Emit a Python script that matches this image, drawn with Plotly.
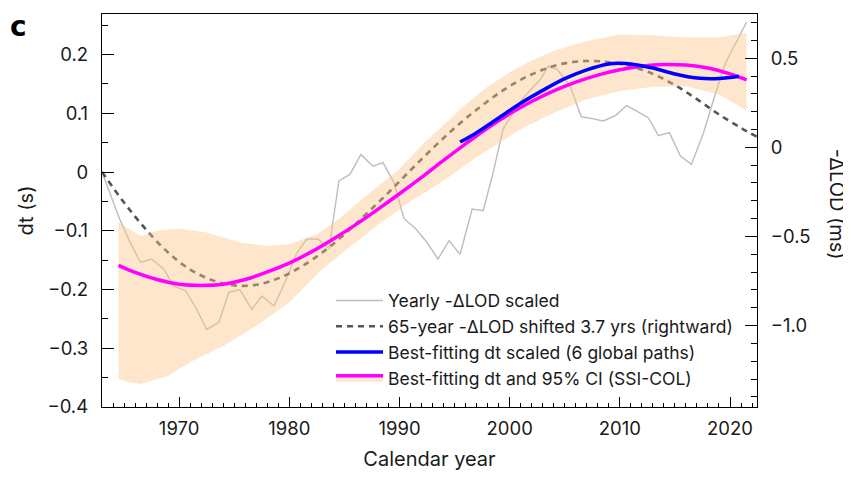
import plotly.graph_objects as go

# ---- data ----
gray_years = [1963.0, 1964.6, 1965.6, 1966.5, 1967.5, 1968.6, 1969.5, 1970.6, 1971.6, 1972.5,
              1973.6, 1974.5, 1975.5, 1976.6, 1977.5, 1978.6, 1979.6, 1980.7, 1981.6, 1982.6,
              1983.6, 1984.5, 1985.5, 1986.5, 1987.6, 1988.5, 1989.5, 1990.4, 1991.5, 1992.5,
              1993.5, 1994.5, 1995.5, 1996.6, 1997.6, 1998.5, 1999.4, 2000.3, 2001.0, 2002.2,
              2002.8, 2003.5, 2004.3, 2005.5, 2006.5, 2007.5, 2008.5, 2009.6, 2010.6, 2011.5,
              2012.6, 2013.5, 2014.5, 2015.5, 2016.5, 2017.6, 2018.6, 2019.6, 2020.6, 2021.5]
gray_dt = [0.0, -0.080, -0.122, -0.154, -0.148, -0.165, -0.194, -0.202, -0.234, -0.268,
           -0.256, -0.205, -0.200, -0.234, -0.211, -0.228, -0.188, -0.137, -0.114, -0.114,
           -0.131, -0.015, -0.004, 0.030, 0.010, 0.016, -0.018, -0.079, -0.097, -0.120,
           -0.148, -0.117, -0.140, -0.063, -0.066, -0.001, 0.073, 0.100, 0.121, 0.146,
           0.158, 0.180, 0.175, 0.146, 0.094, 0.091, 0.087, 0.096, 0.113, 0.104,
           0.092, 0.062, 0.067, 0.027, 0.013, 0.067, 0.129, 0.186, 0.223, 0.255]

dash_years = [1963, 1965, 1967, 1969, 1971, 1973, 1975, 1977, 1979, 1981, 1983, 1985, 1987,
              1989, 1991, 1993, 1995, 1997, 1999, 2001, 2003, 2005, 2007, 2009, 2011, 2013,
              2015, 2017, 2019, 2021, 2022.45]
dash_dt = [0.0, -0.052, -0.098, -0.137, -0.166, -0.184, -0.193, -0.192, -0.181, -0.162,
           -0.137, -0.106, -0.071, -0.035, 0.003, 0.040, 0.075, 0.106, 0.134, 0.157, 0.174,
           0.185, 0.189, 0.187, 0.180, 0.167, 0.148, 0.124, 0.098, 0.075, 0.060]

blue_years = [1995.5, 1997, 1999, 2001, 2003, 2005, 2007, 2009, 2010, 2011, 2013, 2015,
              2017, 2019, 2020.8]
blue_dt = [0.051, 0.067, 0.092, 0.117, 0.139, 0.159, 0.174, 0.184, 0.185, 0.184, 0.177,
           0.167, 0.160, 0.159, 0.163]

mag_years = [1964.5, 1966, 1968, 1970, 1972, 1974, 1976, 1978, 1980, 1982, 1984, 1986, 1988,
             1990, 1992, 1994, 1996, 1998, 2000, 2002, 2004, 2006, 2008, 2010, 2012, 2014,
             2016, 2018, 2020, 2021.5]
mag_dt = [-0.159, -0.171, -0.183, -0.191, -0.193, -0.191, -0.183, -0.170, -0.155, -0.136,
          -0.114, -0.090, -0.064, -0.037, -0.009, 0.020, 0.048, 0.075, 0.099, 0.120, 0.138,
          0.153, 0.165, 0.174, 0.180, 0.183, 0.182, 0.177, 0.167, 0.157]

ci_up_years = [1964.5, 1966.5, 1968, 1970, 1972.5, 1975.5, 1978, 1980, 1982.5, 1984.5, 1987,
               1990, 1992, 1994, 1996, 1998, 2000, 2002, 2004, 2007, 2010, 2013, 2016, 2019,
               2021.5]
ci_up = [-0.086, -0.109, -0.100, -0.096, -0.103, -0.120, -0.126, -0.123, -0.106, -0.080,
         -0.040, 0.005, 0.045, 0.080, 0.115, 0.145, 0.170, 0.190, 0.206, 0.223, 0.234, 0.233,
         0.229, 0.229, 0.237]

ci_lo_years = [1964.5, 1965.5, 1966.5, 1967.5, 1969, 1971, 1974, 1977, 1980, 1983, 1985, 1988,
               1991, 1994, 1997, 2001, 2004, 2007, 2010, 2013, 2016, 2019, 2021.5]
ci_lo = [-0.352, -0.358, -0.361, -0.355, -0.347, -0.324, -0.296, -0.262, -0.222, -0.165,
         -0.135, -0.090, -0.050, -0.015, 0.025, 0.073, 0.101, 0.124, 0.138, 0.145, 0.146,
         0.132, 0.105]

x_ticks = [1970, 1980, 1990, 2000, 2010, 2020]
right_tickvals = [0.5, 0.0, -0.5, -1.0]
right_ticktext = ["0.5", "0", "\u22120.5", "\u22121.0"]

legend_names = ["Yearly -\u0394LOD scaled",
                "65-year -\u0394LOD shifted 3.7 yrs (rightward)",
                "Best-fitting dt scaled (6 global paths)",
                "Best-fitting dt and 95% CI (SSI-COL)"]

# ---- styles ----
BAND = "rgba(250,195,134,0.42)"
MAGENTA = "#ff00ff"
BLUE = "#0000ff"
FONT = "Inter"

fig = go.Figure()

fig.add_trace(go.Scatter(x=gray_years, y=gray_dt, mode="lines",
                         line=dict(color="#bdbdbd", width=1.4),
                         name=legend_names[0], legendrank=1))
fig.add_trace(go.Scatter(x=dash_years, y=dash_dt, mode="lines",
                         line=dict(color="#555555", width=2.6, dash="6px,5px"),
                         line_shape="spline",
                         name=legend_names[1], legendrank=2))
fig.add_trace(go.Scatter(x=ci_lo_years, y=ci_lo, mode="lines", line=dict(width=0),
                         showlegend=False, hoverinfo="skip"))
fig.add_trace(go.Scatter(x=ci_up_years, y=ci_up, mode="lines", line=dict(width=0),
                         fill="tonexty", fillcolor=BAND, showlegend=False, hoverinfo="skip"))
fig.add_trace(go.Scatter(x=mag_years, y=mag_dt, mode="lines", line_shape="spline",
                         line=dict(color=MAGENTA, width=3.5), showlegend=False))
fig.add_trace(go.Scatter(x=blue_years, y=blue_dt, mode="lines", line_shape="spline",
                         line=dict(color=BLUE, width=3.5),
                         name=legend_names[2], legendrank=3))
# legend-only entry combining CI band and magenta line
fig.add_trace(go.Scatter(x=[None], y=[None], mode="lines", fill="toself",
                         fillcolor=BAND, line=dict(color=MAGENTA, width=3.5),
                         name=legend_names[3], legendrank=4))
# secondary axis carrier (no visible marks)
fig.add_trace(go.Scatter(x=[None], y=[None], yaxis="y2", showlegend=False, hoverinfo="skip"))

# page body adds an 8px margin, so the figure is 843x472 and offsets are compensated
PW, PH = 843, 472
ML, MR, MT, MB = 94, 94, 6, 72.5
plot_w = PW - ML - MR
plot_h = PH - MT - MB

fig.update_layout(
    width=PW, height=PH,
    margin=dict(l=ML, r=MR, t=MT, b=MB),
    paper_bgcolor="white", plot_bgcolor="white",
    font=dict(family=FONT, size=18.5, color="#1a1a1a"),
    showlegend=True,
    legend=dict(x=(331 - 102) / plot_w, y=1 - (283 - 14) / plot_h,
                xanchor="left", yanchor="top", traceorder="normal",
                bgcolor="rgba(0,0,0,0)", font=dict(size=17.5, family=FONT),
                itemwidth=47, tracegroupgap=0),
    xaxis=dict(range=[1963, 2022.45], tickvals=x_ticks, showgrid=False, zeroline=False,
               showline=True, linecolor="black", linewidth=1.3, mirror=True,
               ticks="inside", ticklen=10, tickwidth=1.2, tickcolor="black",
               minor=dict(dtick=1, ticks="inside", ticklen=4, tickcolor="black", tickwidth=1),
               ticklabelstandoff=5,
               title=dict(text="Calendar year", font=dict(size=20), standoff=13)),
    yaxis=dict(range=[-0.4, 0.269], dtick=0.1, tick0=0, showgrid=False, zeroline=False,
               showline=True, linecolor="black", linewidth=1.3,
               ticks="inside", ticklen=12, tickwidth=1.2, tickcolor="black",
               minor=dict(dtick=0.05, ticks="inside", ticklen=6, tickcolor="black", tickwidth=1),
               ticklabelstandoff=9,
               title=dict(text="dt (s)", font=dict(size=20), standoff=8)),
    yaxis2=dict(range=[-1.457, 0.748], overlaying="y", side="right", anchor="x",
                tickvals=right_tickvals, ticktext=right_ticktext,
                showgrid=False, zeroline=False,
                showline=True, linecolor="black", linewidth=1.3,
                ticks="inside", ticklen=12, tickwidth=1.2, tickcolor="black",
                minor=dict(dtick=0.1, ticks="inside", ticklen=6, tickcolor="black", tickwidth=1),
                ticklabelstandoff=9),
    annotations=[
        dict(text="-\u0394LOD (ms)", textangle=90, xref="paper", yref="paper",
             x=(829 - ML) / plot_w, y=1 - (196 - MT) / plot_h, showarrow=False,
             font=dict(size=20), xanchor="center", yanchor="middle"),
        dict(text="<b>c</b>", xref="paper", yref="paper", x=-ML / plot_w,
             y=1 + MT / plot_h,
             xanchor="left", yanchor="top", showarrow=False,
             font=dict(size=28, family="DejaVu Sans", color="black")),
    ],
)

fig.write_html("out.html")
